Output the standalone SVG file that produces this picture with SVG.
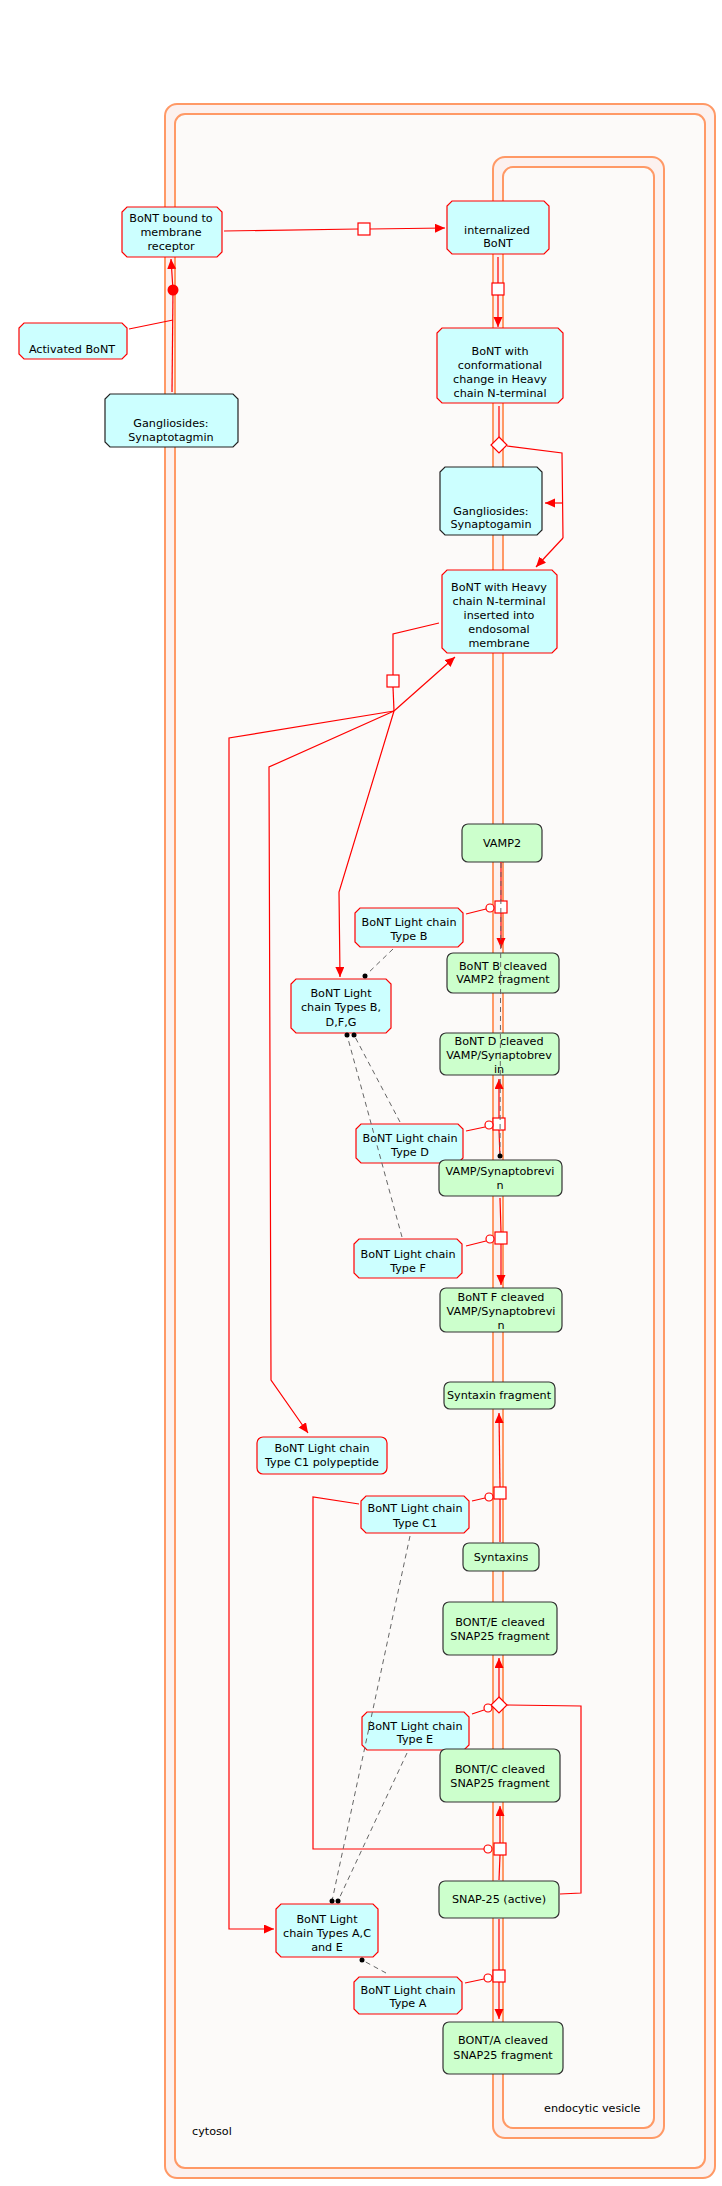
<svg xmlns="http://www.w3.org/2000/svg" width="722" height="2186" viewBox="0 0 722 2186">
<style>
.band{fill:#fcf1ef;stroke:#ff9966;stroke-width:2}
.inner{fill:#fcfaf9;stroke:#ff9966;stroke-width:2}
.cy{fill:#ccffff;stroke:#ff0000;stroke-width:1.2}
.cyk{fill:#ccffff;stroke:#222;stroke-width:1.2}
.gr{fill:#ccffcc;stroke:#333;stroke-width:1.2}
text{font-family:"DejaVu Sans","Liberation Sans",sans-serif;font-size:11.2px;fill:#000;text-anchor:middle}
.lbl{text-anchor:start}
.ln{fill:none;stroke:#ff0000;stroke-width:1.2}
.arr{marker-end:url(#ah)}
.pr{fill:#fff;stroke:#ff0000;stroke-width:1.2}
.cat{fill:#fff;stroke:#ff0000;stroke-width:1.2}
.ds{fill:none;stroke:#666;stroke-width:1;stroke-dasharray:5,4}
.dot{fill:#000}
</style>
<defs>
<marker id="ah" markerUnits="userSpaceOnUse" markerWidth="11" markerHeight="10" refX="10" refY="4.5" orient="auto">
<path d="M0,0 L10,4.5 L0,9 z" fill="#ff0000"/>
</marker>
</defs>
<g id="compartments">
<rect class="band" x="165" y="104" width="550" height="2074" rx="12"/>
<rect class="inner" x="175" y="114" width="530" height="2054" rx="10"/>
<rect class="band" x="493" y="157" width="171" height="1981" rx="12"/>
<rect class="inner" x="503" y="167" width="151" height="1961" rx="10"/>
<text class="lbl" x="192" y="2135">cytosol</text>
<text class="lbl" x="544" y="2112">endocytic vesicle</text>
</g>
<g id="nodes">
<g id="n_bound"><polygon class="cy" points="127,207 217,207 222,212 222,252 217,257 127,257 122,252 122,212"/><text x="171" y="222">BoNT bound to</text><text x="171" y="236">membrane</text><text x="171" y="250">receptor</text></g>
<g id="n_internal"><polygon class="cy" points="452,201 544,201 549,206 549,249 544,254 452,254 447,249 447,206"/><text x="497" y="234">internalized</text><text x="498" y="247">BoNT</text></g>
<g id="n_activated"><polygon class="cy" points="24,323 122,323 127,328 127,354 122,359 24,359 19,354 19,328"/><text x="72" y="353">Activated BoNT</text></g>
<g id="n_gang1"><polygon class="cyk" points="110,394 233,394 238,399 238,442 233,447 110,447 105,442 105,399"/><text x="171" y="427">Gangliosides:</text><text x="171" y="441">Synaptotagmin</text></g>
<g id="n_conf"><polygon class="cy" points="442,328 558,328 563,333 563,398 558,403 442,403 437,398 437,333"/><text x="500" y="355">BoNT with</text><text x="500" y="369">conformational</text><text x="500" y="383">change in Heavy</text><text x="500" y="397">chain N-terminal</text></g>
<g id="n_gang2"><polygon class="cyk" points="445,467 537,467 542,472 542,530 537,535 445,535 440,530 440,472"/><text x="491" y="515">Gangliosides:</text><text x="491" y="528">Synaptogamin</text></g>
<g id="n_inserted"><polygon class="cy" points="447,570 552,570 557,575 557,648 552,653 447,653 442,648 442,575"/><text x="499" y="591">BoNT with Heavy</text><text x="499" y="605">chain N-terminal</text><text x="499" y="619">inserted into</text><text x="499" y="633">endosomal</text><text x="499" y="647">membrane</text></g>
<g id="n_vamp2"><rect class="gr" x="462" y="824" width="80" height="38" rx="6"/><text x="502" y="847">VAMP2</text></g>
<g id="n_lcB"><polygon class="cy" points="360,908 458,908 463,913 463,942 458,947 360,947 355,942 355,913"/><text x="409" y="926">BoNT Light chain</text><text x="409" y="940">Type B</text></g>
<g id="n_Bcleaved"><rect class="gr" x="447" y="953" width="112" height="40" rx="6"/><text x="503" y="970">BoNT B cleaved</text><text x="503" y="983">VAMP2 fragment</text></g>
<g id="n_lcBDFG"><polygon class="cy" points="296,979 386,979 391,984 391,1028 386,1033 296,1033 291,1028 291,984"/><text x="341" y="997">BoNT Light</text><text x="341" y="1011">chain Types B,</text><text x="341" y="1026">D,F,G</text></g>
<g id="n_Dcleaved"><rect class="gr" x="440" y="1033" width="119" height="42" rx="6"/><text x="499" y="1045">BoNT D cleaved</text><text x="499" y="1059">VAMP/Synaptobrev</text><text x="499" y="1073">in</text></g>
<g id="n_lcD"><polygon class="cy" points="361,1124 458,1124 463,1129 463,1158 458,1163 361,1163 356,1158 356,1129"/><text x="410" y="1142">BoNT Light chain</text><text x="410" y="1156">Type D</text></g>
<g id="n_vampsyn"><rect class="gr" x="439" y="1160" width="123" height="36" rx="6"/><text x="500" y="1175">VAMP/Synaptobrevi</text><text x="500" y="1189">n</text></g>
<g id="n_lcF"><polygon class="cy" points="359,1239 457,1239 462,1244 462,1273 457,1278 359,1278 354,1273 354,1244"/><text x="408" y="1258">BoNT Light chain</text><text x="408" y="1272">Type F</text></g>
<g id="n_Fcleaved"><rect class="gr" x="440" y="1288" width="122" height="44" rx="6"/><text x="501" y="1301">BoNT F cleaved</text><text x="501" y="1315">VAMP/Synaptobrevi</text><text x="501" y="1329">n</text></g>
<g id="n_syxfrag"><rect class="gr" x="444" y="1382" width="111" height="27" rx="6"/><text x="499" y="1399">Syntaxin fragment</text></g>
<g id="n_lcC1poly"><rect class="cy" x="257" y="1437" width="130" height="37" rx="6"/><text x="322" y="1452">BoNT Light chain</text><text x="322" y="1466">Type C1 polypeptide</text></g>
<g id="n_lcC1"><polygon class="cy" points="366,1496 464,1496 469,1501 469,1528 464,1533 366,1533 361,1528 361,1501"/><text x="415" y="1512">BoNT Light chain</text><text x="415" y="1527">Type C1</text></g>
<g id="n_syntaxins"><rect class="gr" x="463" y="1543" width="76" height="28" rx="6"/><text x="501" y="1561">Syntaxins</text></g>
<g id="n_Ecleaved"><rect class="gr" x="443" y="1602" width="114" height="53" rx="6"/><text x="500" y="1626">BONT/E cleaved</text><text x="500" y="1640">SNAP25 fragment</text></g>
<g id="n_lcE"><polygon class="cy" points="367,1712 464,1712 469,1717 469,1745 464,1750 367,1750 362,1745 362,1717"/><text x="415" y="1730">BoNT Light chain</text><text x="415" y="1743">Type E</text></g>
<g id="n_Ccleaved"><rect class="gr" x="440" y="1749" width="120" height="53" rx="6"/><text x="500" y="1773">BONT/C cleaved</text><text x="500" y="1787">SNAP25 fragment</text></g>
<g id="n_snap25"><rect class="gr" x="439" y="1881" width="120" height="37" rx="6"/><text x="499" y="1903">SNAP-25 (active)</text></g>
<g id="n_lcACE"><polygon class="cy" points="281,1904 373,1904 378,1909 378,1952 373,1957 281,1957 276,1952 276,1909"/><text x="327" y="1923">BoNT Light</text><text x="327" y="1937">chain Types A,C</text><text x="327" y="1951">and E</text></g>
<g id="n_lcA"><polygon class="cy" points="359,1977 457,1977 462,1982 462,2009 457,2014 359,2014 354,2009 354,1982"/><text x="408" y="1994">BoNT Light chain</text><text x="408" y="2007">Type A</text></g>
<g id="n_Acleaved"><rect class="gr" x="443" y="2022" width="120" height="52" rx="6"/><text x="503" y="2044">BONT/A cleaved</text><text x="503" y="2059">SNAP25 fragment</text></g>
</g>
<g id="connectors">
<polyline class="ln" points="172,392 173,290"/>
<polyline class="ln arr" points="173,290 171,259"/>
<polyline class="ln" points="129,329 173,320"/>
<circle cx="173" cy="290" r="5.5" fill="#ff0000"/>
<polyline class="ln" points="224,231 358,229"/>
<polyline class="ln arr" points="370,229 445,228"/>
<rect class="pr" x="358" y="223" width="12" height="12"/>
<polyline class="ln" points="498,257 498,283"/>
<polyline class="ln arr" points="498,295 498,327"/>
<rect class="pr" x="492" y="283" width="12" height="12"/>
<polyline class="ln" points="499,406 499,437"/>
<polyline class="ln" points="507,446 562,453 563,538"/>
<polyline class="ln arr" points="563,538 536,567"/>
<polyline class="ln arr" points="563,503 545,503"/>
<polygon class="pr" points="499,437 507,445 499,453 491,445"/>
<polyline class="ln" points="439,623 393,634 393,675"/>
<polyline class="ln" points="393,687 394,711"/>
<rect class="pr" x="387" y="675" width="12" height="12"/>
<polyline class="ln arr" points="394,711 455,657"/>
<polyline class="ln arr" points="394,711 229,738 229,1929 274,1929"/>
<polyline class="ln arr" points="394,711 269,767 271,1380 308,1433"/>
<polyline class="ln arr" points="394,711 339,892 340,977"/>
<polyline class="ln" points="501,862 501,901"/>
<polyline class="ln arr" points="501,913 501,948"/>
<rect class="pr" x="495" y="901" width="12" height="12"/>
<polyline class="ln" points="466,914 486,909"/>
<circle class="cat" cx="490" cy="908" r="4"/>
<polyline class="ln" points="500,1158 499,1130"/>
<polyline class="ln arr" points="499,1118 499,1079"/>
<rect class="pr" x="493" y="1118" width="12" height="12"/>
<polyline class="ln" points="466,1131 485,1127"/>
<circle class="cat" cx="489" cy="1125" r="4"/>
<polyline class="ln" points="500,1198 501,1232"/>
<polyline class="ln arr" points="501,1244 501,1285"/>
<rect class="pr" x="495" y="1232" width="12" height="12"/>
<polyline class="ln" points="466,1246 486,1241"/>
<circle class="cat" cx="490" cy="1239" r="4"/>
<polyline class="ln" points="500,1542 500,1499"/>
<polyline class="ln arr" points="500,1487 499,1413"/>
<rect class="pr" x="494" y="1487" width="12" height="12"/>
<polyline class="ln" points="472,1501 485,1498"/>
<circle class="cat" cx="489" cy="1497" r="4"/>
<polyline class="ln" points="359,1504 313,1497 313,1849 484,1849"/>
<circle class="cat" cx="488" cy="1849" r="4"/>
<polyline class="ln" points="499,1880 500,1855"/>
<polyline class="ln arr" points="500,1843 500,1806"/>
<rect class="pr" x="494" y="1843" width="12" height="12"/>
<polyline class="ln" points="560,1894 581,1893 581,1706 507,1705"/>
<polyline class="ln arr" points="499,1697 499,1658"/>
<polygon class="pr" points="499,1697 507,1705 499,1713 491,1705"/>
<polyline class="ln" points="472,1714 484,1710"/>
<circle class="cat" cx="488" cy="1708" r="4"/>
<polyline class="ln" points="499,1919 499,1970"/>
<polyline class="ln arr" points="499,1982 499,2019"/>
<rect class="pr" x="493" y="1970" width="12" height="12"/>
<polyline class="ln" points="465,1983 484,1979"/>
<circle class="cat" cx="488" cy="1978" r="4"/>
<line class="ds" x1="501" y1="863" x2="500" y2="1156"/>
<circle class="dot" cx="500" cy="1156" r="2.5"/>
<line class="ds" x1="393" y1="949" x2="365" y2="976"/>
<circle class="dot" cx="365" cy="976" r="2.5"/>
<line class="ds" x1="400" y1="1122" x2="354" y2="1035"/>
<circle class="dot" cx="354" cy="1035" r="2.5"/>
<line class="ds" x1="402" y1="1237" x2="347" y2="1035"/>
<circle class="dot" cx="347" cy="1035" r="2.5"/>
<line class="ds" x1="410" y1="1536" x2="332" y2="1901"/>
<circle class="dot" cx="332" cy="1901" r="2.5"/>
<line class="ds" x1="407" y1="1753" x2="338" y2="1901"/>
<circle class="dot" cx="338" cy="1901" r="2.5"/>
<line class="ds" x1="386" y1="1973" x2="362" y2="1960"/>
<circle class="dot" cx="362" cy="1960" r="2.5"/>
</g>
</svg>
